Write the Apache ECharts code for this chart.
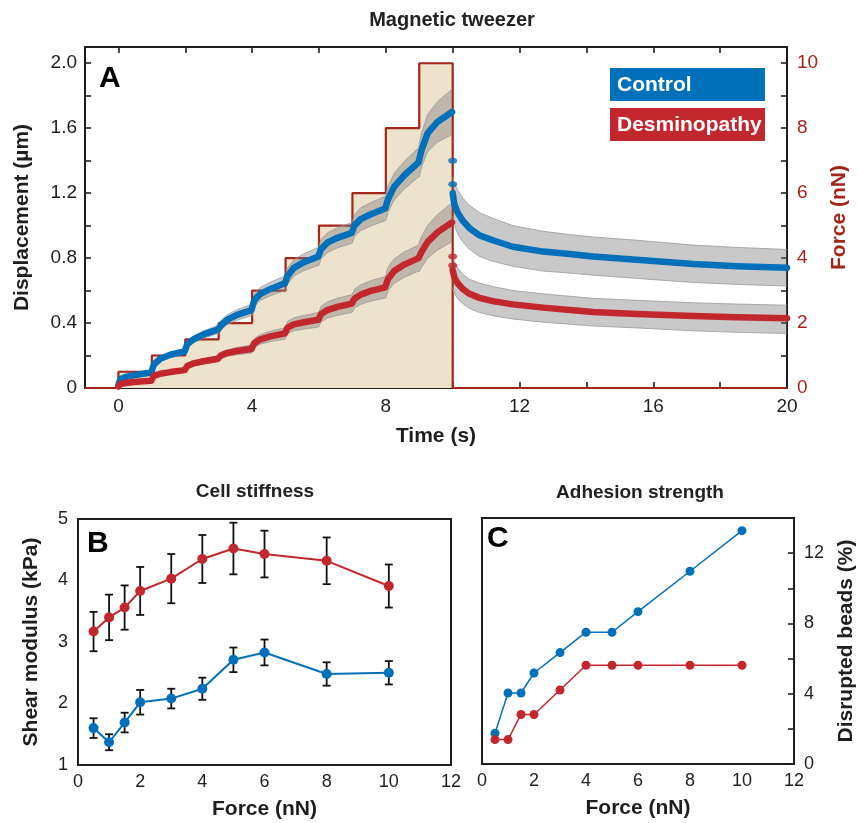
<!DOCTYPE html>
<html>
<head>
<meta charset="utf-8">
<title>Magnetic tweezer</title>
<script src="https://cdn.jsdelivr.net/npm/echarts@6/dist/echarts.min.js"></script>
<style>
html, body { margin: 0; padding: 0; background: #fff; }
#chart { width: 858px; height: 823px; }
</style>
</head>
<body>
<div id="chart"></div>
<script>
// ---- panel A: force protocol
var forceT = [-1, 0, 1, 2, 3, 4, 5, 6, 7, 8, 9, 10, 20];
var forceV = [0, 0.5, 1, 1.5, 2, 3, 4, 5, 6, 8, 10, 0, 0];

// ---- panel A: displacement while force is on (0-10 s)
var preT = [0, 0.06, 0.25, 0.55, 0.98,  1, 1.06, 1.25, 1.55, 1.98,
            2, 2.06, 2.25, 2.55, 2.98,  3, 3.06, 3.25, 3.55, 3.98,
            4, 4.06, 4.25, 4.55, 4.98,  5, 5.06, 5.25, 5.55, 5.98,
            6, 6.06, 6.25, 6.55, 6.98,  7, 7.06, 7.25, 7.55, 7.98,
            8, 8.06, 8.25, 8.55, 8.98,  9, 9.06, 9.25, 9.55, 9.98];
var ctrlPre = [0.02, 0.055, 0.07, 0.082, 0.095,  0.10, 0.145, 0.18, 0.205, 0.225,
               0.23, 0.27, 0.30, 0.33, 0.36,     0.365, 0.385, 0.42, 0.45, 0.48,
               0.485, 0.54, 0.58, 0.61, 0.645,   0.65, 0.69, 0.74, 0.775, 0.81,
               0.815, 0.855, 0.895, 0.925, 0.955, 0.96, 1.0, 1.04, 1.07, 1.105,
               1.11, 1.16, 1.24, 1.31, 1.39,     1.40, 1.46, 1.57, 1.64, 1.70];
var ctrlPreSem = [0.006, 0.006, 0.006, 0.007, 0.008,  0.01, 0.012, 0.012, 0.013, 0.015,
                  0.018, 0.02, 0.02, 0.022, 0.025,   0.028, 0.03, 0.03, 0.032, 0.035,
                  0.038, 0.04, 0.04, 0.042, 0.045,   0.048, 0.05, 0.05, 0.052, 0.055,
                  0.058, 0.06, 0.06, 0.062, 0.064,   0.066, 0.068, 0.07, 0.072, 0.075,
                  0.078, 0.08, 0.082, 0.085, 0.09,   0.1, 0.105, 0.115, 0.125, 0.14];
var desPre = [0.01, 0.025, 0.032, 0.038, 0.045,   0.05, 0.075, 0.088, 0.098, 0.11,
              0.112, 0.135, 0.152, 0.165, 0.18,   0.183, 0.2, 0.215, 0.228, 0.24,
              0.243, 0.275, 0.30, 0.318, 0.336,   0.34, 0.372, 0.392, 0.405, 0.42,
              0.423, 0.455, 0.48, 0.50, 0.52,     0.523, 0.55, 0.575, 0.598, 0.62,
              0.625, 0.67, 0.72, 0.76, 0.80,      0.805, 0.835, 0.90, 0.96, 1.02];
var desPreSem = [0.004, 0.004, 0.004, 0.005, 0.006,  0.008, 0.008, 0.009, 0.01, 0.012,
                 0.012, 0.014, 0.015, 0.016, 0.018,  0.018, 0.02, 0.02, 0.022, 0.025,
                 0.025, 0.028, 0.03, 0.032, 0.035,   0.035, 0.038, 0.04, 0.042, 0.045,
                 0.045, 0.048, 0.05, 0.052, 0.055,   0.055, 0.058, 0.06, 0.063, 0.066,
                 0.07, 0.072, 0.075, 0.078, 0.08,    0.09, 0.095, 0.1, 0.11, 0.12];

// ---- panel A: relaxation after release (10-20 s)
var postT = [10.0, 10.05, 10.15, 10.3, 10.5, 10.8, 11.2, 11.8, 12.7, 13.5, 14.2, 15.5, 17.2, 18.5, 20];
var ctrlPost   = [1.20, 1.13, 1.08, 1.03, 0.985, 0.94, 0.91, 0.87, 0.84, 0.825, 0.81, 0.79, 0.763, 0.75, 0.74];
var ctrlPostHi = [1.30, 1.26, 1.22, 1.17, 1.125, 1.08, 1.045, 1.0, 0.965, 0.945, 0.93, 0.91, 0.88, 0.866, 0.853];
var ctrlPostLo = [1.06, 1.0, 0.95, 0.9, 0.855, 0.81, 0.78, 0.75, 0.72, 0.708, 0.695, 0.675, 0.65, 0.638, 0.628];
var desPost   = [0.726, 0.68, 0.645, 0.61, 0.58, 0.555, 0.535, 0.515, 0.495, 0.48, 0.468, 0.455, 0.443, 0.436, 0.43];
var desPostHi = [0.82, 0.78, 0.74, 0.70, 0.67, 0.645, 0.625, 0.60, 0.58, 0.565, 0.552, 0.54, 0.525, 0.517, 0.51];
var desPostLo = [0.62, 0.58, 0.55, 0.52, 0.49, 0.465, 0.445, 0.425, 0.405, 0.393, 0.382, 0.37, 0.352, 0.343, 0.336];
// the few isolated samples during the drop at 10 s
var dropT = [10, 10];
var ctrlDrop = [1.40, 1.255];
var desDrop = [0.81, 0.755];

// ---- panels B and C
var forceLevels = [0.5, 1, 1.5, 2, 3, 4, 5, 6, 8, 10];
var stiffDes    = [3.17, 3.40, 3.56, 3.83, 4.03, 4.35, 4.52, 4.43, 4.32, 3.91];
var stiffDesSem = [0.32, 0.37, 0.36, 0.39, 0.40, 0.39, 0.42, 0.38, 0.38, 0.35];
var stiffCtrl    = [1.60, 1.37, 1.69, 2.02, 2.08, 2.24, 2.71, 2.83, 2.48, 2.50];
var stiffCtrlSem = [0.16, 0.13, 0.16, 0.20, 0.16, 0.18, 0.20, 0.21, 0.19, 0.19];
var beadsCtrl = [1.75, 4.04, 4.04, 5.18, 6.34, 7.5, 7.5, 8.67, 10.97, 13.28];
var beadsDes  = [1.39, 1.39, 2.82, 2.82, 4.21, 5.62, 5.62, 5.62, 5.62, 5.62];

var timeTicks = [0, 2, 4, 6, 8, 10, 12, 14, 16, 18, 20];
var timeLabels = [0, 4, 8, 12, 16, 20];
var dispTicks = [0, 0.2, 0.4, 0.6, 0.8, 1.0, 1.2, 1.4, 1.6, 1.8, 2.0];
var dispLabels = [0, 0.4, 0.8, 1.2, 1.6, 2.0];
var forceTicks = [0, 1, 2, 3, 4, 5, 6, 7, 8, 9, 10];
var forceLabels = [0, 2, 4, 6, 8, 10];
var beadsLabels = [0, 4, 8, 12];

var BLUE = '#0070bb';
var RED = '#c1272d';
var DARKRED = '#a3261b';
var INK = '#1e1e1e';
var FONT = '"Liberation Sans", Arial, sans-serif';

function zip(a, b) {
    return a.map(function (v, i) { return [v, b[i]]; });
}

// grey SEM band as one polygon drawn through the axes
function band(ts, lo, hi) {
    return {
        type: 'custom', xAxisIndex: 0, yAxisIndex: 0, z: 2, clip: true,
        silent: true,
        data: ts.map(function (t, i) { return [t, lo[i], hi[i]]; }),
        encode: { x: 0, y: [1, 2] },
        renderItem: function (params, api) {
            if (params.dataIndex !== 0) return;
            var up = [], dn = [];
            for (var i = 0; i < ts.length; i++) {
                up.push(api.coord([ts[i], hi[i]]));
                dn.push(api.coord([ts[i], lo[i]]));
            }
            var edge = { stroke: '#999', lineWidth: 0.8, fill: null };
            return {
                type: 'group',
                children: [
                    { type: 'polygon', shape: { points: up.concat(dn.slice().reverse()) },
                      style: { fill: 'rgba(120,120,120,0.4)' } },
                    { type: 'polyline', shape: { points: up }, style: edge },
                    { type: 'polyline', shape: { points: dn }, style: edge }
                ]
            };
        }
    };
}

function errBars(xs, ys, sem, xi, yi) {
    return {
        type: 'custom', xAxisIndex: xi, yAxisIndex: yi, z: 3, silent: true,
        data: xs.map(function (x, i) { return [x, ys[i] - sem[i], ys[i] + sem[i]]; }),
        encode: { x: 0, y: [1, 2] },
        renderItem: function (params, api) {
            var p1 = api.coord([api.value(0), api.value(1)]);
            var p2 = api.coord([api.value(0), api.value(2)]);
            var w = 4;
            var st = { stroke: '#111', lineWidth: 1.8 };
            return {
                type: 'group',
                children: [
                    { type: 'line', shape: { x1: p1[0], y1: p1[1], x2: p2[0], y2: p2[1] }, style: st },
                    { type: 'line', shape: { x1: p1[0] - w, y1: p1[1], x2: p1[0] + w, y2: p1[1] }, style: st },
                    { type: 'line', shape: { x1: p2[0] - w, y1: p2[1], x2: p2[0] + w, y2: p2[1] }, style: st }
                ]
            };
        }
    };
}

function lineSeries(xs, ys, color, xi, yi, width, size) {
    return {
        type: 'line', xAxisIndex: xi, yAxisIndex: yi, z: 4,
        data: zip(xs, ys),
        symbol: 'circle', symbolSize: size,
        itemStyle: { color: color },
        lineStyle: { color: color, width: width }
    };
}

function curve(xs, ys, color) {
    return {
        type: 'line', xAxisIndex: 0, yAxisIndex: 0, z: 4,
        data: zip(xs, ys),
        showSymbol: false, symbol: 'none',
        lineStyle: { color: color, width: 6.5, cap: 'round', join: 'round' }
    };
}

var ctrlPreLo = ctrlPre.map(function (v, i) { return v - ctrlPreSem[i]; });
var ctrlPreHi = ctrlPre.map(function (v, i) { return v + ctrlPreSem[i]; });
var desPreLo = desPre.map(function (v, i) { return v - desPreSem[i]; });
var desPreHi = desPre.map(function (v, i) { return v + desPreSem[i]; });

var tickLbl = { fontFamily: FONT, fontSize: 19, color: INK };
var nameTxt = { fontFamily: FONT, fontSize: 21, fontWeight: 'bold', color: INK };
var axLine = { onZero: false, lineStyle: { color: INK, width: 2 } };
var tickIn = { inside: true, length: 6, lineStyle: { color: INK, width: 1.6 } };

var chart = echarts.init(document.getElementById('chart'));
chart.setOption({
    animation: false,
    backgroundColor: '#fff',
    grid: [
        { left: 85, top: 47, width: 711, height: 341 },
        { left: 78, top: 519, width: 373, height: 246, show: true, borderColor: INK, borderWidth: 2 },
        { left: 482, top: 518, width: 314, height: 246, show: true, borderColor: INK, borderWidth: 2 }
    ],
    xAxis: [
        { type: 'value', gridIndex: 0, min: -1, max: 20,
          axisLine: axLine, splitLine: { show: false },
          axisTick: Object.assign({ customValues: timeTicks }, tickIn),
          axisLabel: Object.assign({ customValues: timeLabels, margin: 9 }, tickLbl),
          name: 'Time (s)', nameLocation: 'middle', nameGap: 38, nameTextStyle: nameTxt },
        { type: 'value', gridIndex: 0, position: 'top', min: -1, max: 20,
          axisLine: axLine, splitLine: { show: false },
          axisTick: Object.assign({ customValues: timeTicks }, tickIn),
          axisLabel: { show: false } },
        { type: 'value', gridIndex: 1, min: 0, max: 12, interval: 2,
          axisLine: axLine, splitLine: { show: false }, axisTick: { show: false },
          axisLabel: Object.assign({ margin: 8 }, tickLbl, { fontSize: 18 }),
          name: 'Force (nN)', nameLocation: 'middle', nameGap: 34, nameTextStyle: nameTxt },
        { type: 'value', gridIndex: 2, min: 0, max: 12, interval: 2,
          axisLine: axLine, splitLine: { show: false }, axisTick: { show: false },
          axisLabel: Object.assign({ margin: 8 }, tickLbl, { fontSize: 18 }),
          name: 'Force (nN)', nameLocation: 'middle', nameGap: 34, nameTextStyle: nameTxt }
    ],
    yAxis: [
        { type: 'value', gridIndex: 0, min: 0, max: 2.1,
          axisLine: axLine, splitLine: { show: false },
          axisTick: Object.assign({ customValues: dispTicks }, tickIn),
          axisLabel: Object.assign({ customValues: dispLabels, margin: 8,
              formatter: function (v) { return v === 0 ? '0' : v.toFixed(1); } }, tickLbl),
          name: 'Displacement (µm)', nameLocation: 'middle', nameGap: 52, nameTextStyle: nameTxt },
        { type: 'value', gridIndex: 0, position: 'right', min: 0, max: 10.5,
          axisLine: axLine, splitLine: { show: false },
          axisTick: Object.assign({ customValues: forceTicks }, tickIn),
          axisLabel: Object.assign({ customValues: forceLabels, margin: 10 }, tickLbl, { color: DARKRED }),
          name: 'Force (nN)', nameLocation: 'middle', nameGap: 34,
          nameTextStyle: Object.assign({}, nameTxt, { color: DARKRED }) },
        { type: 'value', gridIndex: 1, min: 1, max: 5, interval: 1,
          axisLine: axLine, splitLine: { show: false }, axisTick: { show: false },
          axisLabel: Object.assign({ margin: 10 }, tickLbl, { fontSize: 18 }),
          name: 'Shear modulus (kPa)', nameLocation: 'middle', nameGap: 36, nameTextStyle: nameTxt },
        { type: 'value', gridIndex: 2, position: 'right', min: 0, max: 14, interval: 2,
          axisLine: axLine, splitLine: { show: false },
          axisTick: tickIn,
          axisLabel: Object.assign({ customValues: beadsLabels, margin: 10 }, tickLbl, { fontSize: 18 }),
          name: 'Disrupted beads (%)', nameLocation: 'middle', nameGap: 42, nameTextStyle: nameTxt }
    ],
    series: [
        { type: 'line', xAxisIndex: 0, yAxisIndex: 1, z: 1, step: 'end',
          data: zip(forceT, forceV), symbol: 'none',
          lineStyle: { color: DARKRED, width: 2.2 },
          areaStyle: { color: '#ede2cb', opacity: 1 } },
        band(preT, ctrlPreLo, ctrlPreHi),
        band(preT, desPreLo, desPreHi),
        band(postT, ctrlPostLo, ctrlPostHi),
        band(postT, desPostLo, desPostHi),
        curve(preT, ctrlPre, BLUE),
        curve(postT, ctrlPost, BLUE),
        curve(preT, desPre, RED),
        curve(postT, desPost, RED),
        { type: 'scatter', xAxisIndex: 0, yAxisIndex: 0, z: 4, data: zip(dropT, ctrlDrop),
          symbolSize: [9, 6], itemStyle: { color: BLUE } },
        { type: 'scatter', xAxisIndex: 0, yAxisIndex: 0, z: 4, data: zip(dropT, desDrop),
          symbolSize: [9, 6], itemStyle: { color: RED } },

        errBars(forceLevels, stiffDes, stiffDesSem, 2, 2),
        errBars(forceLevels, stiffCtrl, stiffCtrlSem, 2, 2),
        lineSeries(forceLevels, stiffDes, RED, 2, 2, 2, 10),
        lineSeries(forceLevels, stiffCtrl, BLUE, 2, 2, 2, 10),

        lineSeries(forceLevels, beadsCtrl, BLUE, 3, 3, 1.5, 9),
        lineSeries(forceLevels, beadsDes, RED, 3, 3, 1.5, 9)
    ],
    graphic: [
        { type: 'text', x: 452, y: 20, z: 10, style: { text: 'Magnetic tweezer', align: 'center', verticalAlign: 'middle',
          font: 'bold 20px "Liberation Sans Narrow", "Arial Narrow", ' + FONT, fill: '#222' } },
        { type: 'text', x: 255, y: 492, z: 10, style: { text: 'Cell stiffness', align: 'center', verticalAlign: 'middle',
          font: 'bold 19px ' + FONT, fill: '#222' } },
        { type: 'text', x: 640, y: 493, z: 10, style: { text: 'Adhesion strength', align: 'center', verticalAlign: 'middle',
          font: 'bold 19px ' + FONT, fill: '#222' } },
        { type: 'text', x: 99, y: 79, z: 10, style: { text: 'A', verticalAlign: 'middle', font: 'bold 30px ' + FONT, fill: '#000' } },
        { type: 'text', x: 87, y: 544, z: 10, style: { text: 'B', verticalAlign: 'middle', font: 'bold 30px ' + FONT, fill: '#000' } },
        { type: 'text', x: 487, y: 539, z: 10, style: { text: 'C', verticalAlign: 'middle', font: 'bold 30px ' + FONT, fill: '#000' } },
        { type: 'rect', shape: { x: 610, y: 68, width: 155, height: 33 }, style: { fill: BLUE }, z: 10 },
        { type: 'text', x: 617, y: 85, z: 11, style: { text: 'Control', verticalAlign: 'middle',
          font: 'bold 21px ' + FONT, fill: '#fff' } },
        { type: 'rect', shape: { x: 610, y: 108, width: 155, height: 33 }, style: { fill: RED }, z: 10 },
        { type: 'text', x: 617, y: 125, z: 11, style: { text: 'Desminopathy', verticalAlign: 'middle',
          font: 'bold 21px ' + FONT, fill: '#fff' } }
    ]
});
</script>
</body>
</html>
